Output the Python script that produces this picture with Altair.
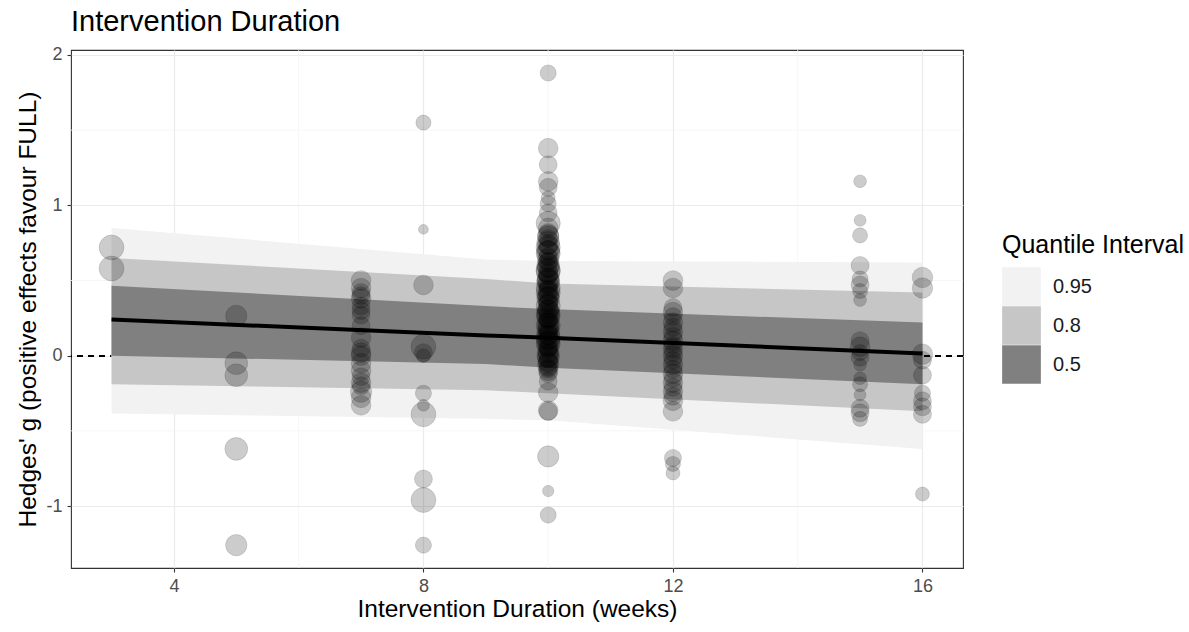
import altair as alt
import pandas as pd

# ---------------- data ----------------
# points: intervention duration (weeks), Hedges' g, relative weight
x3 = [0.72, 0.58]
w3 = [9.5, 9.5]
x5 = [0.265, -0.05, -0.13, -0.62, -1.26]
w5 = [7, 8, 8, 8, 7]
x7 = [0.50, 0.45, 0.42, 0.38, 0.33, 0.27, 0.20, 0.12, 0.05, 0.0, -0.05, -0.10, -0.14, -0.18, -0.24, -0.28, -0.33,
      0.40, 0.30, 0.02, -0.20]
w7 = [6, 6, 5, 6, 5, 5, 5, 6, 5, 6, 6, 6, 5, 6, 7, 6, 6,
      5, 5, 6, 5]
x8 = [1.55, 0.84, 0.47, 0.06, 0.02, 0.0, -0.25, -0.33, -0.39, -0.82, -0.96, -1.26]
w8 = [3.5, 1.5, 6, 9.5, 5, 3, 4, 2.2, 9.5, 5, 9.5, 4]
x10 = [1.88, 1.38, 1.27, 1.16, 1.12, 1.05, 1.01, 0.95, 0.88,
       0.85, 0.82, 0.80, 0.78, 0.75, 0.73, 0.70, 0.68, 0.66, 0.64, 0.62, 0.60,
       0.58, 0.56, 0.55, 0.53, 0.51, 0.50, 0.48, 0.46, 0.45, 0.43, 0.41, 0.40,
       0.38, 0.36, 0.35, 0.33, 0.31, 0.30, 0.28, 0.26, 0.25, 0.23, 0.21, 0.20,
       0.18, 0.16, 0.15, 0.13, 0.11, 0.10, 0.08, 0.06, 0.05, 0.03, 0.01, 0.0,
       -0.02, -0.04, -0.06, -0.08, -0.10, -0.12,
       0.79, 0.74, 0.69, 0.63, 0.59, 0.54, 0.49, 0.44, 0.39, 0.34, 0.29, 0.24,
       0.19, 0.14, 0.09, 0.04, -0.01, -0.05, -0.09, 0.72, 0.57, 0.42, 0.27, 0.12,
       -0.17, -0.245, -0.365, -0.37, -0.67, -0.90, -1.06]
w10 = [4, 6, 5, 6, 5, 3, 4, 5, 9,
       6, 5, 7, 5, 8, 5, 6, 9, 5, 7, 6, 8,
       5, 9, 6, 5, 7, 8, 6, 5, 9, 6, 7, 5,
       8, 6, 5, 9, 6, 7, 5, 8, 6, 5, 7, 9,
       6, 5, 8, 6, 7, 5, 9, 6, 5, 7, 6, 8,
       5, 6, 7, 5, 6, 5,
       7, 6, 8, 5, 7, 6, 8, 5, 7, 6, 8, 5,
       7, 6, 8, 5, 7, 6, 5, 9, 9, 9, 9, 9,
       5, 6, 6, 5, 7, 2, 4]
x12 = [0.50, 0.45, 0.32, 0.29, 0.26, 0.22, 0.19, 0.16, 0.13, 0.10, 0.07, 0.05, 0.02, 0.0,
       -0.03, -0.06, -0.09, -0.12, -0.15, -0.18, -0.21, -0.24, -0.27, -0.30, -0.37,
       -0.68, -0.72, -0.78]
w12 = [6, 6, 5, 6, 5, 6, 5, 6, 5, 6, 5, 6, 5, 6,
       5, 6, 5, 6, 5, 6, 5, 6, 5, 6, 6,
       4.5, 3.5, 3]
x15 = [1.16, 0.90, 0.80, 0.60, 0.51, 0.47, 0.43, 0.37, 0.10, 0.06, 0.02, -0.01, -0.06,
       -0.15, -0.19, -0.26, -0.35, -0.38, -0.42]
w15 = [2.5, 2.2, 3.5, 5, 4, 5, 3.5, 2.5, 5, 6, 4, 5, 2.5, 2.5, 3.5, 2.2, 5, 5, 3.5]
x16 = [0.52, 0.45, 0.01, -0.03, -0.13, -0.25, -0.30, -0.34, -0.39, -0.92]
w16 = [6.5, 6.5, 6.5, 5, 5, 4, 5, 5, 5, 3]

columns = [(3, x3, w3), (5, x5, w5), (7, x7, w7), (8, x8, w8), (10, x10, w10),
           (12, x12, w12), (15, x15, w15), (16, x16, w16)]

# posterior regression line and quantile intervals
band_x = [3, 9, 10, 16]
center = [0.24, 0.135, 0.12, 0.015]
lo95 = [-0.385, -0.42, -0.43, -0.62]
hi95 = [0.85, 0.64, 0.63, 0.62]
lo80 = [-0.19, -0.23, -0.25, -0.37]
hi80 = [0.65, 0.51, 0.48, 0.42]
lo50 = [0.0, -0.055, -0.08, -0.19]
hi50 = [0.465, 0.33, 0.31, 0.22]

levels = ["0.95", "0.8", "0.5"]
level_colors = ["#f2f2f2", "#c6c6c6", "#808080"]

x_major = [4, 8, 12, 16]
x_minor = [6, 10, 14]
y_major = [-1, 0, 1, 2]
y_minor = [-0.5, 0.5, 1.5]

# ---------------- tables ----------------
pts = pd.DataFrame([
    {"weeks": wk, "g": g, "w": w}
    for wk, gs, ws in columns for g, w in zip(gs, ws)
])

band_rows = []
for lvl, lo, hi in zip(levels, [lo95, lo80, lo50], [hi95, hi80, hi50]):
    for bx, l, h in zip(band_x, lo, hi):
        band_rows.append({"weeks": bx, "lo": l, "hi": h, "level": lvl})
bands = pd.DataFrame(band_rows)
line_df = pd.DataFrame({"weeks": band_x, "g": center})
xminor_df = pd.DataFrame({"v": x_minor})
yminor_df = pd.DataFrame({"v": y_minor})

xscale = alt.Scale(domain=[2.35, 16.65], nice=False, zero=False)
yscale = alt.Scale(domain=[-1.412, 2.033], nice=False, zero=False)

xaxis = alt.Axis(values=x_major, title="Intervention Duration (weeks)", labelExpr="datum.value")
yaxis = alt.Axis(values=y_major, title="Hedges' g (positive effects favour FULL)", labelExpr="datum.value")

minor_x = alt.Chart(xminor_df).mark_rule(color="#f4f4f4", strokeWidth=0.8).encode(
    x=alt.X("v:Q", scale=xscale, axis=xaxis)
)
minor_y = alt.Chart(yminor_df).mark_rule(color="#f4f4f4", strokeWidth=0.8).encode(
    y=alt.Y("v:Q", scale=yscale, axis=yaxis)
)

zero_line = alt.Chart(pts).mark_rule(color="#000000", strokeDash=[6, 5], strokeWidth=1.4).encode(
    y=alt.datum(0)
)

fill_scale = alt.Scale(domain=levels, range=level_colors)
band_layers = []
for lvl in levels:
    band_layers.append(
        alt.Chart(bands[bands.level == lvl]).mark_area(opacity=1).encode(
            x=alt.X("weeks:Q", scale=xscale, axis=xaxis),
            y=alt.Y("lo:Q", scale=yscale, axis=yaxis),
            y2="hi:Q",
            fill=alt.Fill("level:N", scale=fill_scale, title="Quantile Interval",
                          legend=alt.Legend(orient="none", legendX=931, legendY=183,
                                            symbolType="square", symbolSize=1500,
                                            symbolStrokeWidth=0, symbolOpacity=1,
                                            rowPadding=0, labelOffset=12,
                                            titlePadding=9, titleLimit=400)),
        )
    )

line = alt.Chart(line_df).mark_line(color="#000000", strokeWidth=4).encode(
    x=alt.X("weeks:Q", scale=xscale, axis=xaxis),
    y=alt.Y("g:Q", scale=yscale, axis=yaxis),
)

points = alt.Chart(pts).mark_circle(
    color="#000000", fillOpacity=0.2, stroke="#000000", strokeOpacity=0.12, strokeWidth=1
).encode(
    x=alt.X("weeks:Q", scale=xscale, axis=xaxis),
    y=alt.Y("g:Q", scale=yscale, axis=yaxis),
    size=alt.Size("w:Q", scale=alt.Scale(domain=[0, 10], range=[0, 650]), legend=None),
)

chart = alt.layer(minor_x, minor_y, zero_line, *band_layers, line, points).properties(
    width=892,
    height=518,
    title=alt.Title("Intervention Duration", anchor="start", frame="group", fontSize=29,
                    fontWeight="normal", color="#000000", offset=9),
    autosize=alt.AutoSizeParams(type="none"),
    padding={"left": 71, "top": 50, "right": 226, "bottom": 64},
).configure(
    font="Liberation Sans",
    background="#ffffff",
).configure_view(
    stroke="#333333", strokeWidth=1.1
).configure_axis(
    domain=False,
    grid=True,
    gridColor="#ebebeb",
    gridWidth=1.2,
    tickColor="#333333",
    tickSize=4,
    tickWidth=1.1,
    labelColor="#4d4d4d",
    labelFontSize=18,
    labelPadding=5,
    titleFontSize=24.5,
    titleFontWeight="normal",
    titleColor="#000000",
    titleLimit=800,
).configure_axisX(
    titlePadding=2
).configure_axisY(
    titlePadding=5
).configure_legend(
    titleFontSize=25,
    titleFontWeight="normal",
    titleColor="#000000",
    labelFontSize=20,
    labelColor="#1a1a1a",
)

chart.save("out.html", embed_options={"renderer": "svg", "actions": False})
